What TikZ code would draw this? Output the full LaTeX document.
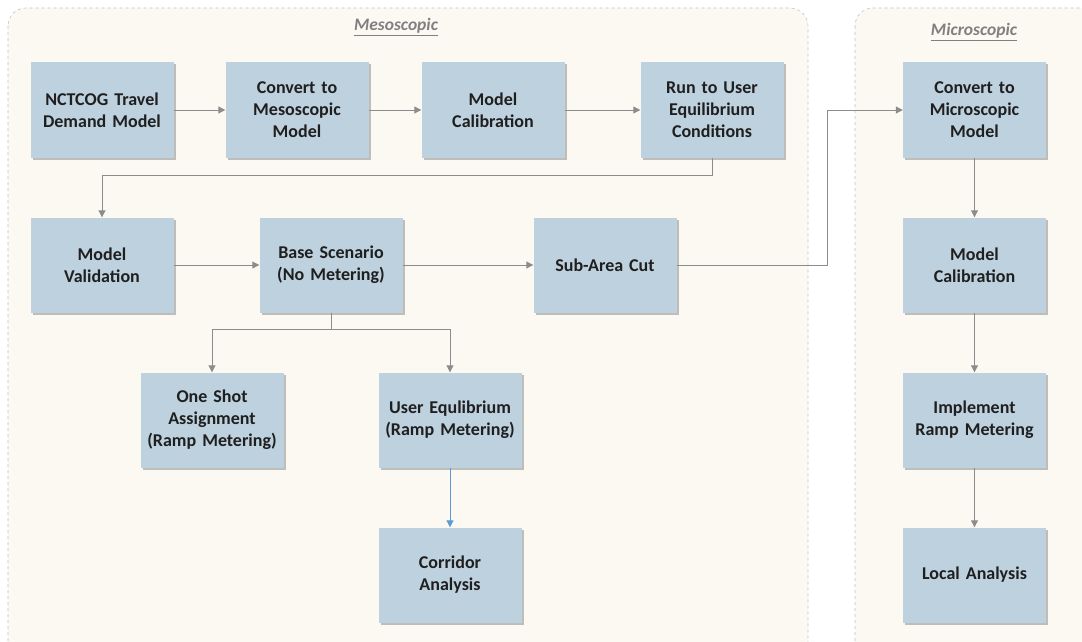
\documentclass[tikz,border=0pt]{standalone}
\usepackage{fontspec}
\setmainfont{Carlito}
\usetikzlibrary{arrows.meta}
\usetikzlibrary{shadows}

\definecolor{boxBlue}{RGB}{190,209,222}
\definecolor{paneCream}{RGB}{252,249,242}
\definecolor{paneLine}{RGB}{195,195,195}
\definecolor{lineGray}{RGB}{140,140,140}
\definecolor{lineBlue}{RGB}{91,155,213}
\definecolor{titleGray}{RGB}{128,128,128}

\begin{document}
\begin{tikzpicture}[x = 1pt, y = -1pt, font=\fontsize{18}{22}\selectfont\bfseries]
	\tikzstyle{paneStyle} = [draw = paneLine, dashed, fill = paneCream, rounded corners = 18pt, line width = 0.6pt]
	\tikzstyle{titleStyle} = [text = titleGray, font = \fontsize{17.5}{20}\selectfont\bfseries\itshape]
	\tikzstyle{boxStyle} = [shape = rectangle, fill = boxBlue, minimum width = 143pt, minimum height = 95pt, text width = 136pt, align = center, text = black!88, drop shadow = {shadow xshift = 2pt, shadow yshift = -2pt, fill = black!45, opacity = 0.55}]
	\tikzstyle{arrowStyle} = [draw = lineGray, line width = 1pt, -{Triangle[width = 7pt, length = 7pt]}]
	\tikzstyle{blueArrowStyle} = [arrowStyle, draw = lineBlue, -{Triangle[width = 7pt, length = 7pt, fill = lineBlue]}]
	\useasboundingbox (0,0) rectangle (1082,642);
	\clip (0,0) rectangle (1082,642);
	\fill[white] (0,0) rectangle (1082,642);
	% panes
	\draw[paneStyle] (8,8) rectangle (808,660);
	\draw[paneStyle] (855,8) rectangle (1110,660);
	\node[titleStyle] (mesoTitle) at (396,27) {\underline{Mesoscopic}};
	\node[titleStyle] (microTitle) at (974,32) {\underline{Microscopic}};
	% mesoscopic steps
	\node[boxStyle] (v0) at (102,110) {NCTCOG Travel\\Demand Model};
	\node[boxStyle] (v1) at (297,110) {Convert to\\Mesoscopic\\Model};
	\node[boxStyle] (v2) at (493,110) {Model\\Calibration};
	\node[boxStyle] (v3) at (712,110) {Run to User\\Equilibrium\\Conditions};
	\node[boxStyle] (v4) at (102,265) {Model\\Validation};
	\node[boxStyle] (v5) at (331,265) {Base Scenario\\(No Metering)};
	\node[boxStyle] (v6) at (605,265) {Sub-Area Cut};
	\node[boxStyle] (v7) at (212,420) {One Shot\\Assignment\\(Ramp Metering)};
	\node[boxStyle] (v8) at (450,420) {User Equlibrium\\(Ramp Metering)};
	\node[boxStyle] (v9) at (450,575) {Corridor\\Analysis};
	% microscopic steps
	\node[boxStyle] (w0) at (974.5,110) {Convert to\\Microscopic\\Model};
	\node[boxStyle] (w1) at (974.5,265) {Model\\Calibration};
	\node[boxStyle] (w2) at (974.5,420) {Implement\\Ramp Metering};
	\node[boxStyle] (w3) at (974.5,575) {Local Analysis};
	% connectors
	\draw[arrowStyle] (v0) -- (v1);
	\draw[arrowStyle] (v1) -- (v2);
	\draw[arrowStyle] (v2) -- (v3);
	\draw[arrowStyle] (v3.south) -- ++(0,18) -| (v4.north);
	\draw[arrowStyle] (v4) -- (v5);
	\draw[arrowStyle] (v5) -- (v6);
	\draw[arrowStyle] (v6.east) -- ++(151,0) |- (w0.west);
	\draw[arrowStyle] (v5.south) -- ++(0,17) -| (v7.north);
	\draw[arrowStyle] (v5.south) -- ++(0,17) -| (v8.north);
	\draw[blueArrowStyle] (v8) -- (v9);
	\draw[arrowStyle] (w0) -- (w1);
	\draw[arrowStyle] (w1) -- (w2);
	\draw[arrowStyle] (w2) -- (w3);
\end{tikzpicture}
\end{document}
